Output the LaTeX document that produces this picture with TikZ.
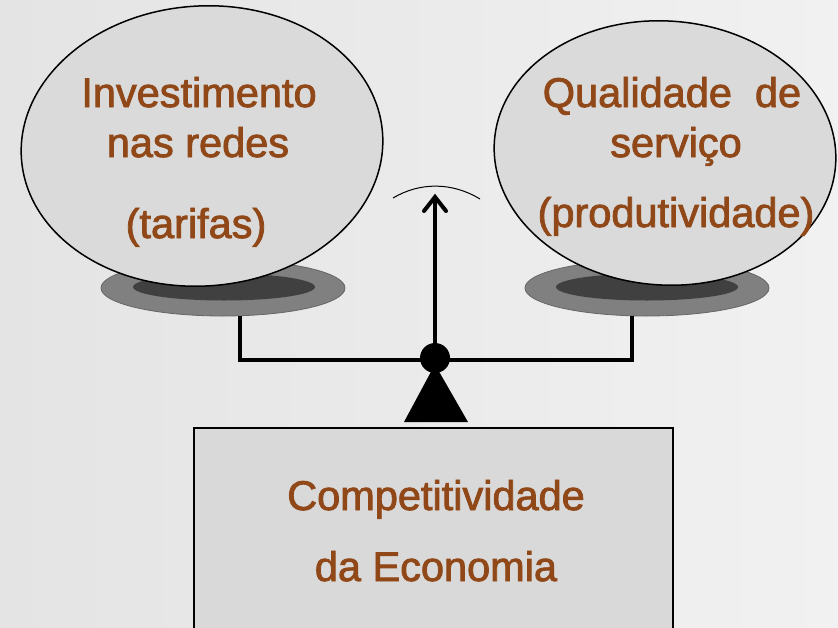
\documentclass[tikz,border=0pt]{standalone}
\usepackage{fontspec}
\setmainfont{Liberation Sans}
\newfontfamily\lblfont[FakeBold=2]{Liberation Sans}
\usetikzlibrary{calc}
\definecolor{bgL}{RGB}{228,228,228}
\definecolor{bgR}{RGB}{241,241,241}
\definecolor{ballfill}{RGB}{218,218,218}
\definecolor{platefill}{RGB}{128,128,128}
\definecolor{plateinner}{RGB}{64,64,64}
\definecolor{boxfill}{RGB}{217,217,217}
\definecolor{txtbrown}{RGB}{145,72,24}
\tikzset{
  ball/.style={draw=black, line width=1.5pt, fill=ballfill},
  plate/.style={draw=black!60, line width=0.8pt, fill=platefill},
  plateinr/.style={fill=plateinner},
  bar/.style={line width=4pt},
  lbl/.style={font=\lblfont\fontsize{41.5}{48}\selectfont, text=txtbrown, inner sep=0pt, anchor=base},
  basebox/.style={draw=black, line width=1.5pt, fill=boxfill}
}
\begin{document}
\begin{tikzpicture}[x=1pt,y=-1pt]
\useasboundingbox (0,0) rectangle (838,627);
\clip (0,0) rectangle (838,627);
\shade[left color=bgL, right color=bgR] (0,0) rectangle (838,627);
% base box
\draw[basebox] (194,428) rectangle (673,640);
% plates
\draw[plate] (223,288) ellipse [x radius=122, y radius=28];
\fill[plateinr] (224,287) ellipse [x radius=91, y radius=13.5];
\draw[plate] (647,288) ellipse [x radius=122, y radius=28];
\fill[plateinr] (647,287) ellipse [x radius=91, y radius=13.5];
% balls
\draw[ball, rotate around={4:(202,146)}] (202,146) ellipse [x radius=181, y radius=140];
\draw[ball, rotate around={-4:(665,153)}] (665,153) ellipse [x radius=171, y radius=132];
% beam
\coordinate (pl) at (240,316);
\coordinate (pr) at (632,316);
\coordinate (pivot) at (435,358);
\coordinate (tip) at (435,197);
\draw[bar] (pl) -- (240,360) -- (632,360) -- (pr);
\draw[line width=4pt] (pivot) -- ($(tip)+(0,3)$);
\draw[line width=4pt, line cap=round, miter limit=10] (424,211) -- (tip) -- (446,211);
\fill (pivot) circle (15);
\fill (404,422) -- (468,422) -- (437,368) -- (433,368) -- cycle;
\draw[line width=1pt] (393,198) .. controls (420,182) and (452,182) .. (480,199);
% texts
\node[lbl] (t1) at (199,107) {Investimento};
\node[lbl] (t2) at (198,157) {nas redes};
\node[lbl] (t3) at (196,238) {(tarifas)};
\node[lbl] (q1) at (672,107) {Qualidade\ \ de};
\node[lbl] (q2) at (676,157) {serviço};
\node[lbl] (q3) at (676,227) {(produtividade)};
\node[lbl] (c1) at (436,510) {Competitividade};
\node[lbl] (c2) at (436,581) {da Economia};
\end{tikzpicture}
\end{document}
